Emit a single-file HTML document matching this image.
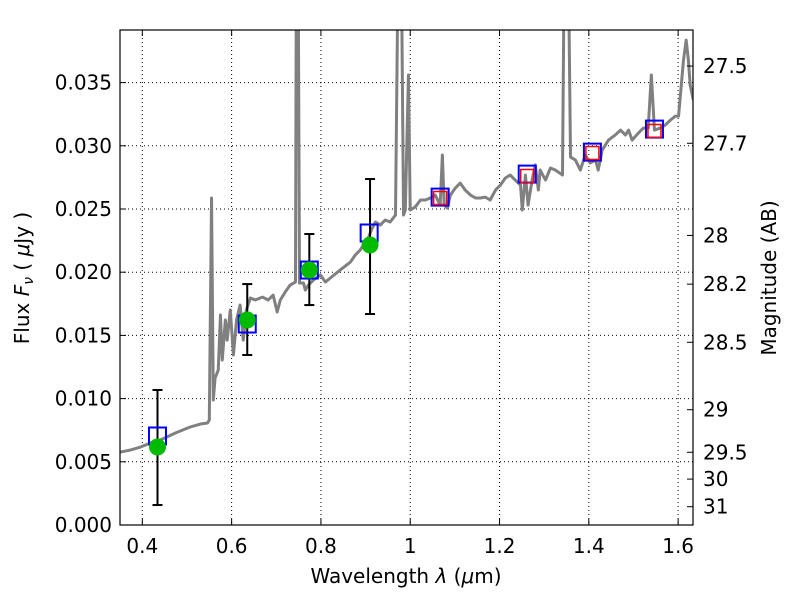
<!DOCTYPE html>
<html><head><meta charset="utf-8"><style>
body{margin:0;background:#fff}
svg{font-family:"DejaVu Sans","Liberation Sans",sans-serif}
</style></head><body>
<svg id="chart" width="800" height="600" xmlns="http://www.w3.org/2000/svg">
<defs><clipPath id="clip"><rect x="120" y="30" width="573" height="495"/></clipPath></defs>
<rect width="800" height="600" fill="#fff"/>
<g id="grid"></g>
<g id="series" clip-path="url(#clip)"></g>
<g id="axes"></g>
</svg>
<script>
const specWl=[0.351,0.373,0.396,0.418,0.440,0.474,0.507,0.530,0.546,0.550,0.555,0.559,0.563,0.570,0.575,0.579,0.586,0.590,0.597,0.604,0.611,0.619,0.626,0.633,0.642,0.653,0.669,0.682,0.693,0.702,0.709,0.720,0.731,0.743,0.745,0.749,0.752,0.761,0.765,0.772,0.783,0.799,0.810,0.821,0.843,0.866,0.877,0.888,0.895,0.904,0.915,0.922,0.933,0.944,0.955,0.967,0.973,0.980,0.985,0.989,0.996,1.000,1.011,1.023,1.034,1.045,1.056,1.067,1.072,1.076,1.083,1.090,1.101,1.112,1.123,1.135,1.146,1.157,1.168,1.179,1.191,1.202,1.213,1.224,1.235,1.247,1.251,1.258,1.264,1.273,1.280,1.287,1.291,1.303,1.314,1.325,1.341,1.345,1.354,1.359,1.370,1.381,1.392,1.403,1.415,1.421,1.430,1.444,1.459,1.471,1.482,1.489,1.497,1.511,1.522,1.533,1.540,1.547,1.560,1.571,1.583,1.594,1.601,1.612,1.618,1.623,1.627,1.634];
const specFlux=[0.00577,0.00593,0.00617,0.00649,0.00672,0.00728,0.00775,0.00799,0.00807,0.00831,0.02587,0.00989,0.01163,0.01226,0.01661,0.01305,0.01622,0.01463,0.01701,0.01345,0.01622,0.01740,0.01463,0.01701,0.01796,0.01780,0.01803,0.01780,0.01819,0.01685,0.01780,0.01843,0.01898,0.01922,0.045,0.045,0.01914,0.01914,0.01859,0.01898,0.01938,0.01978,0.01922,0.01954,0.02017,0.02080,0.02136,0.02175,0.02215,0.02254,0.02349,0.02397,0.02373,0.02413,0.02397,0.02452,0.045,0.045,0.02452,0.02492,0.03560,0.02492,0.02515,0.02571,0.02571,0.02587,0.02610,0.02531,0.02927,0.02531,0.02507,0.02610,0.02666,0.02705,0.02650,0.02610,0.02587,0.02587,0.02594,0.02571,0.02650,0.02689,0.02745,0.02769,0.02729,0.02689,0.02492,0.02769,0.02531,0.02729,0.02848,0.02650,0.02808,0.02729,0.02824,0.02808,0.02769,0.045,0.045,0.02911,0.02887,0.02808,0.02927,0.02864,0.02887,0.02808,0.02966,0.03045,0.03085,0.03124,0.03085,0.03124,0.03045,0.03101,0.03140,0.03140,0.03560,0.03124,0.03140,0.03164,0.03204,0.03235,0.03235,0.03678,0.03836,0.03678,0.03480,0.03362];
const modelWl=[0.434,0.635,0.774,0.908,1.067,1.262,1.408,1.547];
const modelFlux=[0.00704,0.01590,0.02017,0.02310,0.02594,0.02776,0.02950,0.03132];
const redWl=[1.067,1.262,1.408,1.547];
const redFlux=[0.02587,0.02761,0.02943,0.03117];
const obsWl=[0.434,0.635,0.774,0.910];
const obsFlux=[0.00617,0.01622,0.02017,0.02215];
const obsLow=[0.00158,0.01345,0.01740,0.01669];
const obsHigh=[0.01068,0.01906,0.02302,0.02737];
const xTicks=[0.4,0.6,0.8,1.0,1.2,1.4,1.6];
const xTickLabels=["0.4","0.6","0.8","1","1.2","1.4","1.6"];
const yTicks=[0,0.005,0.01,0.015,0.02,0.025,0.03,0.035];
const yTickLabels=["0.000","0.005","0.010","0.015","0.020","0.025","0.030","0.035"];
const magTicks=[27.5,27.7,28,28.2,28.5,29,29.5,30,31];

const X0=120,X1=693,Y0=525,Y1=30,XMIN=0.35,XMAX=1.6333,YMIN=0,YMAX=0.03916;
const sx=v=>X0+(v-XMIN)/(XMAX-XMIN)*(X1-X0);
const sy=v=>Y0-(v-YMIN)/(YMAX-YMIN)*(Y0-Y1);
const NS="http://www.w3.org/2000/svg";
function mk(tag,attrs,parent){const e=document.createElementNS(NS,tag);for(const k in attrs)e.setAttribute(k,attrs[k]);parent.appendChild(e);return e;}
const grid=document.getElementById('grid'),series=document.getElementById('series'),axes=document.getElementById('axes');

xTicks.forEach((t,i)=>{
  const l=mk('line',{x1:sx(t),x2:sx(t),y1:Y1,y2:Y0,stroke:'#000','stroke-dasharray':'1,3','stroke-width':1},grid);
  
  
  const tk=mk('line',{x1:sx(t),x2:sx(t),y1:Y0,y2:Y0-6,stroke:'#000'},axes);
  
  
  const tk2=mk('line',{x1:sx(t),x2:sx(t),y1:Y1,y2:Y1+6,stroke:'#000'},axes);
  
  
  const tx=mk('text',{x:sx(t),y:553,'text-anchor':'middle','font-size':20},axes);
  tx.textContent=xTickLabels[i];
  
  
});
yTicks.forEach((t,i)=>{
  const l=mk('line',{x1:X0,x2:X1,y1:sy(t),y2:sy(t),stroke:'#000','stroke-dasharray':'1,3','stroke-width':1},grid);
  
  
  const tk=mk('line',{x1:X0,x2:X0+6,y1:sy(t),y2:sy(t),stroke:'#000'},axes);
  
  
  const tx=mk('text',{x:112,y:sy(t)+7,'text-anchor':'end','font-size':20},axes);
  tx.textContent=yTickLabels[i];
  
  
});
magTicks.forEach(m=>{
  const f=Math.pow(10,(23.9-m)/2.5);
  const tk=mk('line',{x1:X1,x2:X1-6,y1:sy(f),y2:sy(f),stroke:'#000'},axes);
  
  
  const tx=mk('text',{x:703,y:sy(f)+7,'font-size':20},axes);
  tx.textContent=String(m);
  
  
});

const spec=mk('polyline',{points:specWl.map((w,i)=>sx(w)+','+sy(specFlux[i])).join(' '),fill:'none',stroke:'#808080','stroke-width':3,'stroke-linejoin':'round'},series);



obsWl.forEach((w,i)=>{
  const x=sx(w);
  const e=mk('line',{x1:x,x2:x,y1:sy(obsLow[i]),y2:sy(obsHigh[i]),stroke:'#000','stroke-width':2},series);
  
  
  [obsLow[i],obsHigh[i]].forEach(v=>{
    const c=mk('line',{x1:x-5,x2:x+5,y1:sy(v),y2:sy(v),stroke:'#000','stroke-width':2},series);
    
    
  });
});
modelWl.forEach((w,i)=>{
  const r=mk('rect',{x:sx(w)-8.5,y:sy(modelFlux[i])-8.5,width:17,height:17,fill:'none',stroke:'#0000ff','stroke-width':2},series);
  
  
});
redWl.forEach((w,i)=>{
  const r=mk('rect',{x:sx(w)-6.5,y:sy(redFlux[i])-6.5,width:13,height:13,fill:'none',stroke:'#ff0000','stroke-width':1.5},series);
  
  
});
obsWl.forEach((w,i)=>{
  const c=mk('circle',{cx:sx(w),cy:sy(obsFlux[i]),r:8.5,fill:'#00bb00'},series);
  
  
});

const frame=mk('rect',{x:X0,y:Y1,width:X1-X0,height:Y0-Y1,fill:'none',stroke:'#000','stroke-width':1.2},axes);


const xl=mk('text',{x:406,y:583,'text-anchor':'middle','font-size':20},axes);
xl.innerHTML='Wavelength  <tspan font-style="italic">λ</tspan> (<tspan font-style="italic">μ</tspan>m)';


const yl=mk('text',{x:0,y:0,'text-anchor':'middle','font-size':20,transform:'translate(29,278) rotate(-90)'},axes);
yl.innerHTML='Flux  <tspan font-style="italic">F</tspan><tspan font-style="italic" font-size="14" dy="4">ν</tspan><tspan dy="-4">  ( </tspan><tspan font-style="italic">μ</tspan>Jy )';


const yr=mk('text',{x:0,y:0,'text-anchor':'middle','font-size':20,transform:'translate(776,278) rotate(-90)'},axes);
yr.textContent='Magnitude (AB)';


</script>
</body></html>
